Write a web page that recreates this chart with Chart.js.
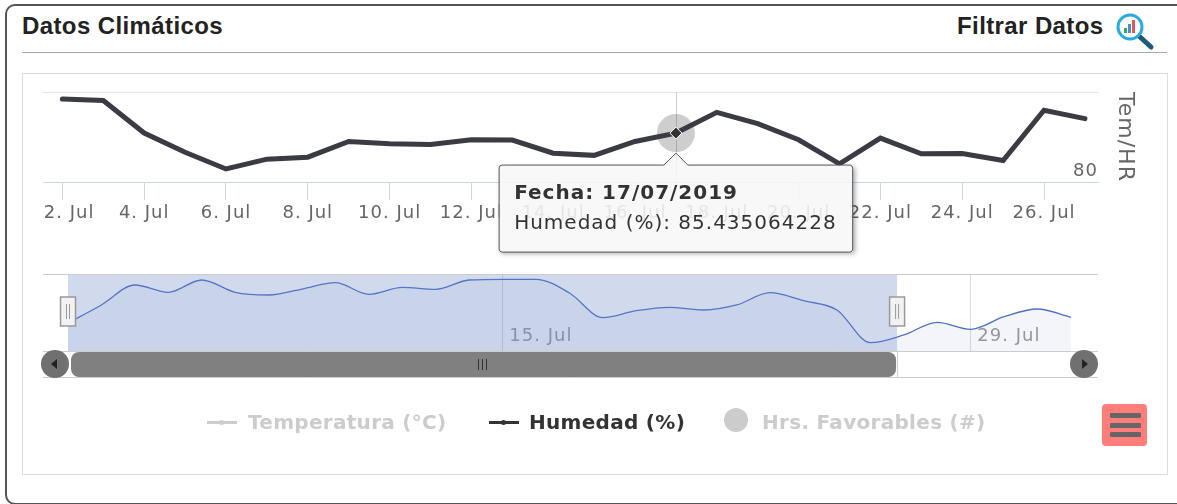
<!DOCTYPE html>
<html>
<head>
<meta charset="utf-8">
<script src="https://cdn.jsdelivr.net/npm/chart.js@4/dist/chart.umd.js"></script>
<style>
  html, body { margin: 0; padding: 0; background: #fff; width: 1177px; height: 504px; overflow: hidden; }
  canvas { position: absolute; left: 0; top: 0; }
  .abs { position: absolute; white-space: nowrap; }
  #card { left: 5px; top: 4px; width: 1190px; height: 497px; border: 2px solid #555; border-radius: 10px; }
  #rule { left: 22px; top: 52px; width: 1145px; height: 1px; background: #a8a8a8; }
  #box { left: 22px; top: 73px; width: 1144px; height: 400px; border: 1px solid #ddd; }
  .head { top: 12px; font: bold 24px "Liberation Sans", Arial, sans-serif; letter-spacing: 0.4px; color: #222; }
  .leg { top: 410px; font: bold 20px "DejaVu Sans", sans-serif; letter-spacing: 0.3px; color: #ccc; }
  .sym { height: 3px; width: 30px; top: 421px; background: #ccc; }
  .sym i { position: absolute; left: 12px; top: -1px; width: 5px; height: 5px; border-radius: 50%; background: inherit; }
  #dot { left: 724px; top: 408px; width: 24px; height: 24px; border-radius: 50%; background: #ccc; }
  #menu { left: 1102px; top: 404px; width: 45px; height: 42px; border-radius: 4px; background: #ff7d7a; }
  #menu b { position: absolute; left: 8px; width: 31px; height: 5px; border-radius: 1px; background: #666; }
</style>
</head>
<body>
<div class="abs" id="card"></div>
<div class="abs head" style="left:22px">Datos Climáticos</div>
<div class="abs head" style="left:957px">Filtrar Datos</div>
<svg class="abs" style="left:1112px;top:10px" width="46" height="42">
  <line x1="27" y1="26" x2="39" y2="37" stroke="#1d5a7a" stroke-width="5" stroke-linecap="round"/>
  <circle cx="18" cy="17" r="12" fill="#fff" stroke="#29abe2" stroke-width="3"/>
  <rect x="12" y="18" width="3" height="5" fill="#3aa17e"/>
  <rect x="16" y="14" width="3" height="9" fill="#4a8fc0"/>
  <rect x="20" y="10" width="3" height="13" fill="#e8574f"/>
</svg>
<div class="abs" id="rule"></div>
<div class="abs" id="box"></div>
<canvas id="graph--main" width="1177" height="504"></canvas>
<canvas id="graph--nav" width="1177" height="504"></canvas>
<div class="abs sym" style="left:207px"><i></i></div>
<div class="abs leg" id="leg0" style="left:248px"></div>
<div class="abs sym" style="left:489px;background:#333"><i></i></div>
<div class="abs leg" id="leg1" style="left:529px;color:#333"></div>
<div class="abs" id="dot"></div>
<div class="abs leg" id="leg2" style="left:762px"></div>
<div class="abs" id="menu"><b style="top:9px"></b><b style="top:19px"></b><b style="top:28px"></b></div>
<script>
// dias de julio y humedad de la ventana visible
const days = [2, 3, 4, 5, 6, 7, 8, 9, 10, 11, 12, 13, 14, 15, 16, 17, 18, 19, 20, 21, 22, 23, 24, 25, 26, 27];
const humedad = [89.22, 89.05, 85.44, 83.30, 81.45, 82.54, 82.76, 84.50, 84.25, 84.17, 84.69, 84.66, 83.20,
  82.96, 84.50, 85.435064228, 87.74, 86.48, 84.69, 82.01, 84.88, 83.13, 83.16, 82.38, 87.97, 87.04];
const tickDays = [2, 4, 6, 8, 10, 12, 14, 16, 18, 20, 22, 24, 26];
const tickLabels = ["2. Jul", "4. Jul", "6. Jul", "8. Jul", "10. Jul", "12. Jul", "14. Jul", "16. Jul",
  "18. Jul", "20. Jul", "22. Jul", "24. Jul", "26. Jul"];
const yTicks = [80, 90];

// navegador: 2 jul - 1 ago
const navDays = [2, 3, 4, 5, 6, 7, 8, 9, 10, 11, 12, 13, 14, 15, 16, 17, 18, 19, 20, 21, 22, 23, 24, 25, 26, 27,
  28, 29, 30, 31, 32];
const navValues = [82.27, 86.95, 92.14, 90.24, 93.44, 90.24, 89.54, 91.10, 92.74, 89.73, 91.54, 91.02, 93.44,
  93.62, 93.62, 90.06, 83.65, 85.47, 86.35, 85.65, 86.95, 90.14, 88.06, 85.65, 77.16, 79.16, 82.45, 80.64,
  83.91, 85.91, 83.75];
const navTickDays = [15, 29];
const navTickLabels = ["15. Jul", "29. Jul"];
const selection = [2, 26.8];
const seriesNames = ["Temperatura (°C)", "Humedad (%)", "Hrs. Favorables (#)"];
const activeIndex = 15;

const FONT = "'DejaVu Sans', sans-serif";
seriesNames.forEach((s, i) => { document.getElementById("leg" + i).textContent = s; });

// el texto del original va algo mas espaciado
const spacedText = {
  id: "spacedText",
  beforeUpdate(chart) { chart.ctx.letterSpacing = "1px"; }
};

// crosshair, halo y sombra del tooltip
const hoverMarks = {
  id: "hoverMarks",
  beforeDatasetsDraw(chart) {
    const pt = chart.getDatasetMeta(0).data[activeIndex];
    const { ctx, chartArea } = chart;
    ctx.save();
    ctx.strokeStyle = "#cfcfcf";
    ctx.beginPath();
    ctx.moveTo(Math.round(pt.x) + 0.5, chartArea.top);
    ctx.lineTo(Math.round(pt.x) + 0.5, chartArea.bottom);
    ctx.stroke();
    ctx.fillStyle = "rgba(60,60,60,0.25)";
    ctx.beginPath();
    ctx.arc(pt.x, pt.y, 19, 0, Math.PI * 2);
    ctx.fill();
    ctx.restore();
  },
  beforeTooltipDraw(chart, args) {
    const t = args.tooltip;
    const { ctx } = chart;
    ctx.save();
    ctx.beginPath();
    ctx.rect(0, 0, chart.width, chart.height);
    ctx.rect(t.x, t.y, t.width, t.height);
    ctx.clip("evenodd");
    ctx.shadowColor = "rgba(0,0,0,0.35)";
    ctx.shadowBlur = 5;
    ctx.shadowOffsetX = 2;
    ctx.shadowOffsetY = 2;
    ctx.fillStyle = "#fff";
    ctx.fillRect(t.x, t.y, t.width, t.height);
    ctx.restore();
  }
};

let mainChart = new Chart(document.getElementById("graph--main"), {
  type: "line",
  plugins: [spacedText, hoverMarks],
  data: {
    datasets: [{
      label: seriesNames[1],
      data: days.map((d, i) => ({ x: d, y: humedad[i] })),
      borderColor: "#3b3b44",
      borderWidth: 5,
      borderCapStyle: "round",
      tension: 0,
      pointRadius: 0,
      pointStyle: "rectRot",
      pointHoverRadius: 6,
      pointHoverBackgroundColor: "#333",
      pointHoverBorderColor: "#fff",
      pointHoverBorderWidth: 1
    }]
  },
  options: {
    responsive: false,
    animation: false,
    events: [],
    layout: { padding: { left: 43, top: 92, right: 29, bottom: 280 } },
    scales: {
      x: {
        type: "linear",
        min: 1.526,
        max: 27.32,
        afterBuildTicks: (axis) => { axis.ticks = tickDays.map((v) => ({ value: v })); },
        afterFit: (axis) => { axis.height = 42; },
        border: { color: "#ccd6eb" },
        grid: { drawOnChartArea: false, tickColor: "#ccd6eb", tickLength: 18 },
        ticks: {
          autoSkip: false,
          maxRotation: 0,
          padding: 3,
          color: "#666",
          font: { family: FONT, size: 18 },
          // la primera etiqueta se corre para no salirse del area
          callback: (v) => (v === tickDays[0] ? "\u00a0\u00a0" : "") + tickLabels[tickDays.indexOf(v)]
        }
      },
      y: {
        position: "right",
        min: 80,
        max: 90,
        afterBuildTicks: (axis) => { axis.ticks = yTicks.map((v) => ({ value: v })); },
        afterFit: (axis) => { axis.width = 50; },
        border: { display: false },
        grid: { color: "#e6e6e6", drawTicks: false },
        title: { display: true, text: "Tem/HR", color: "#666", font: { family: FONT, size: 22 }, padding: 10 },
        ticks: {
          mirror: true,
          padding: 0,
          color: "#666",
          font: { family: FONT, size: 18 },
          callback: (v) => (v === 80 ? ["80", ""] : "")
        }
      }
    },
    plugins: {
      legend: { display: false },
      title: { display: false },
      tooltip: {
        animation: false,
        position: "nearest",
        xAlign: "center",
        yAlign: "top",
        backgroundColor: "rgba(247,247,247,0.88)",
        borderColor: "#555",
        borderWidth: 1,
        cornerRadius: 3,
        caretSize: 12,
        caretPadding: 20,
        padding: { left: 15, right: 16, top: 17, bottom: 16 },
        displayColors: false,
        titleColor: "#333",
        bodyColor: "#333",
        titleFont: { family: FONT, size: 20, weight: "bold" },
        bodyFont: { family: FONT, size: 20 },
        titleMarginBottom: 6,
        callbacks: {
          title: () => "Fecha: 17/07/2019",
          label: (c) => seriesNames[1] + ": " + humedad[c.dataIndex]
        }
      }
    }
  }
});
mainChart.setActiveElements([{ datasetIndex: 0, index: activeIndex }]);
mainChart.tooltip.setActiveElements([{ datasetIndex: 0, index: activeIndex }], { x: 0, y: 0 });
mainChart.update();

// zona seleccionada, asas y barra de desplazamiento
const navigatorParts = {
  id: "navigatorParts",
  afterDatasetsDraw(chart) {
    const { ctx, chartArea: a, scales } = chart;
    const x0 = scales.x.getPixelForValue(selection[0]);
    const x1 = scales.x.getPixelForValue(selection[1]);
    const barBottom = a.bottom + 26;
    ctx.save();
    ctx.fillStyle = "rgba(102,133,194,0.3)";
    ctx.fillRect(x0, a.top, x1 - x0, a.bottom - a.top);

    ctx.strokeStyle = "#ccc";
    ctx.lineWidth = 1;
    [a.top + 0.5, a.bottom + 0.5, barBottom + 0.5].forEach((y) => {
      ctx.beginPath();
      ctx.moveTo(a.left, y);
      ctx.lineTo(a.right, y);
      ctx.stroke();
    });
    ctx.beginPath();
    ctx.moveTo(x1 + 0.5, a.bottom);
    ctx.lineTo(x1 + 0.5, barBottom);
    ctx.stroke();

    // asas
    [x0, x1].forEach((x) => {
      ctx.fillStyle = "#f2f2f2";
      ctx.strokeStyle = "#999";
      ctx.lineWidth = 1.5;
      ctx.fillRect(x - 7.5, 297, 15, 29);
      ctx.strokeRect(x - 7.5, 297, 15, 29);
      ctx.lineWidth = 1;
      ctx.beginPath();
      ctx.moveTo(x - 1.5, 304); ctx.lineTo(x - 1.5, 319);
      ctx.moveTo(x + 1.5, 304); ctx.lineTo(x + 1.5, 319);
      ctx.stroke();
    });

    // barra
    ctx.fillStyle = "#808080";
    ctx.beginPath();
    ctx.roundRect(x0 + 3, a.bottom + 1, x1 - x0 - 4, 25, 8);
    ctx.fill();
    ctx.strokeStyle = "#333";
    ctx.lineWidth = 1;
    const mid = Math.round((x0 + x1) / 2);
    [-4, 0, 4].forEach((d) => {
      ctx.beginPath();
      ctx.moveTo(mid + d - 0.5, a.bottom + 8);
      ctx.lineTo(mid + d - 0.5, a.bottom + 19);
      ctx.stroke();
    });

    // botones
    [[a.left + 12, -1], [a.right - 14, 1]].forEach(([cx, dir]) => {
      const cy = a.bottom + 13;
      ctx.fillStyle = "#707070";
      ctx.beginPath();
      ctx.arc(cx, cy, 14, 0, Math.PI * 2);
      ctx.fill();
      ctx.fillStyle = "#222";
      ctx.beginPath();
      ctx.moveTo(cx + dir * 4, cy);
      ctx.lineTo(cx - dir * 2, cy - 5);
      ctx.lineTo(cx - dir * 2, cy + 5);
      ctx.fill();
    });
    ctx.restore();
  }
};

let navChart = new Chart(document.getElementById("graph--nav"), {
  type: "line",
  plugins: [spacedText, navigatorParts],
  data: {
    datasets: [{
      data: navDays.map((d, i) => ({ x: d, y: navValues[i] })),
      borderColor: "#4f6fc4",
      borderWidth: 1.3,
      backgroundColor: "rgba(102,133,194,0.08)",
      fill: "origin",
      cubicInterpolationMode: "monotone",
      pointRadius: 0
    }]
  },
  options: {
    responsive: false,
    animation: false,
    events: [],
    layout: { padding: { left: 43, top: 274, right: 79, bottom: 153 } },
    scales: {
      x: {
        type: "linear",
        min: 1.252,
        max: 32.81,
        afterBuildTicks: (axis) => { axis.ticks = navTickDays.map((v) => ({ value: v })); },
        afterFit: (axis) => { axis.height = 0; },
        border: { display: false },
        grid: { color: "#ddd", drawTicks: false },
        ticks: {
          autoSkip: false,
          maxRotation: 0,
          align: "start",
          mirror: true,
          padding: 4,
          color: "#999",
          font: { family: FONT, size: 18 },
          callback: (v) => "\u00a0" + navTickLabels[navTickDays.indexOf(v)]
        }
      },
      y: { display: false, min: 75, max: 95 }
    },
    plugins: { legend: { display: false }, tooltip: { enabled: false } }
  }
});
</script>
</body>
</html>
